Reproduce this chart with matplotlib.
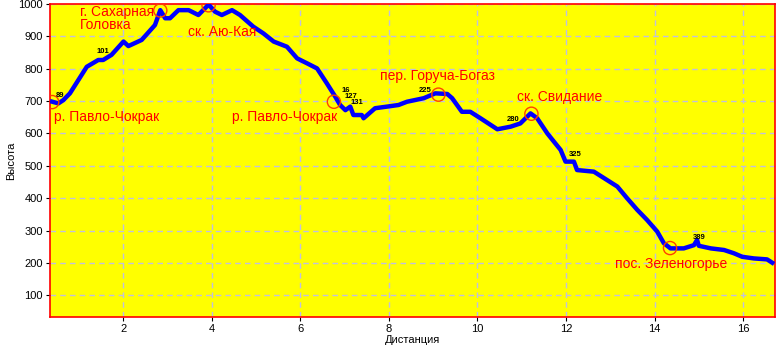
import matplotlib
matplotlib.use("Agg")
import matplotlib.pyplot as plt

# Profile data: distance (km) vs altitude (m)
distance = [0.35, 0.54, 0.65, 0.80, 0.99, 1.18, 1.44, 1.55, 1.74, 2.01, 2.12, 2.42, 2.72, 2.84,
            2.95, 3.06, 3.25, 3.48, 3.70, 3.93, 4.08, 4.23, 4.46, 4.64, 4.94, 5.17, 5.40, 5.70,
            5.93, 6.15, 6.38, 6.60, 6.79, 6.90, 7.02, 7.13, 7.20, 7.39, 7.43, 7.69, 7.96, 8.22,
            8.41, 8.79, 9.05, 9.32, 9.43, 9.65, 9.84, 10.07, 10.45, 10.75, 10.97, 11.20, 11.35,
            11.58, 11.88, 11.99, 12.18, 12.25, 12.63, 12.93, 13.16, 13.38, 13.61, 13.83, 14.06,
            14.21, 14.36, 14.66, 14.89, 14.96, 15.00, 15.27, 15.57, 15.79, 15.98, 16.24, 16.54, 16.70]
altitude = [700, 693, 703, 724, 765, 806, 827, 827, 843, 884, 870, 889, 935, 981,
            956, 956, 981, 981, 966, 998, 976, 966, 981, 966, 930, 909, 884, 868,
            832, 817, 801, 755, 714, 688, 672, 683, 657, 657, 647, 678, 683, 688,
            698, 709, 724, 722, 709, 667, 667, 647, 613, 621, 631, 662, 647,
            600, 549, 513, 513, 487, 482, 456, 436, 400, 364, 333, 297,
            261, 245, 245, 255, 271, 253, 245, 240, 230, 219, 214, 211, 197]

# Named landmarks
poi_names = ["р. Павло-Чокрак", "г. Сахарная\nГоловка", "ск. Аю-Кая", "р. Павло-Чокрак",
             "пер. Горуча-Богаз", "ск. Свидание", "пос. Зеленогорье"]
poi_x = [0.40, 2.84, 3.93, 6.76, 9.12, 11.22, 14.35]
poi_y = [697, 980, 996, 698, 720, 661, 246]
label_x = [0.44, 1.03, 3.47, 6.84, 7.81, 10.90, 14.37]
label_y = [672, 996, 936, 672, 800, 733, 218]
label_ha = ["left", "left", "left", "right", "left", "left", "center"]

# Small waypoint numbers
wp_text = ["89", "101", "16", "127", "131", "225", "280", "325", "389"]
wp_x = [0.58, 1.55, 7.04, 7.14, 7.28, 8.82, 10.80, 12.22, 15.02]
wp_y = [716, 852, 734, 714, 697, 732, 642, 534, 280]

xticks = [2, 4, 6, 8, 10, 12, 14, 16]
yticks = [100, 200, 300, 400, 500, 600, 700, 800, 900, 1000]

W, H = 782, 350
fig = plt.figure(figsize=(W / 100, H / 100), dpi=100)
fig.patch.set_facecolor("white")
ax = fig.add_axes([50 / W, (H - 317) / H, (775 - 50) / W, (317 - 4) / H])
ax.set_facecolor("#ffff00")

ax.set_xlim(0.35, 16.72)
ax.set_ylim(33, 1000)
ax.set_xticks(xticks)
ax.set_yticks(yticks)
ax.grid(True, color="#c0c0e0", linestyle=(0, (4, 3)), linewidth=1)
ax.set_axisbelow(True)

for s in ax.spines.values():
    s.set_color("red")
    s.set_linewidth(1.2)

ax.tick_params(axis="both", labelsize=8, length=3, color="black", labelcolor="black", pad=2)
for lab in ax.get_xticklabels() + ax.get_yticklabels():
    lab.set_fontfamily("Liberation Sans")

ax.plot(distance, altitude, color="#0000ff", linewidth=3.2, solid_capstyle="butt", zorder=3)

ax.scatter(poi_x, poi_y, s=90, facecolors="none", edgecolors="#ff4000", linewidths=1.0, zorder=4)
for name, lx, ly, ha in zip(poi_names, label_x, label_y, label_ha):
    ax.text(lx, ly, name, color="red", fontsize=10, family="Liberation Sans",
            ha=ha, va="top", linespacing=0.85, zorder=5)

for t, x, y in zip(wp_text, wp_x, wp_y):
    ax.text(x, y, t, color="black", fontsize=5.5, family="Liberation Sans",
            fontweight="bold", ha="center", va="center", zorder=5)

ax.set_xlabel("Дистанция", fontsize=8, family="Liberation Sans", labelpad=1)
ax.set_ylabel("Высота", fontsize=8, family="Liberation Sans", labelpad=2)

fig.savefig("out.png", dpi=100)
